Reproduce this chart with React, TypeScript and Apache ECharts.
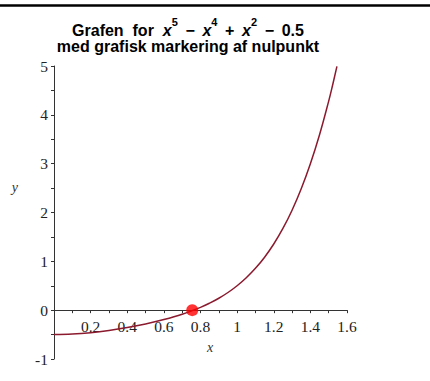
import React, { useEffect, useRef } from "react";
import * as echarts from "echarts";

const xValues = [0, 0.1, 0.2, 0.3, 0.4, 0.5, 0.6, 0.7, 0.8, 0.85, 0.9, 0.95, 1.0, 1.05, 1.1, 1.15, 1.2, 1.25, 1.3, 1.35, 1.4, 1.45, 1.5, 1.52, 1.545];
const yValues = [-0.5, -0.4901, -0.4613, -0.4157, -0.3554, -0.2813, -0.1918, -0.082, 0.0581, 0.1442, 0.2444, 0.3618, 0.5, 0.6633, 0.8564, 1.0849, 1.3547, 1.6729, 2.0468, 2.485, 2.9966, 3.5917, 4.2813, 4.5862, 4.9923];

// Marked zero point
const rootX = [0.7549];
const rootY = [0];

const titleLine1 = "Grafen  for  ";
const titleLine2 = "med grafisk markering af nulpunkt";

const xMin = 0;
const xMax = 1.6;
const xInterval = 0.2;
const yMin = -1;
const yMax = 5;
const yInterval = 1;

const GRID_TOP = 66;
const GRID_BOTTOM = 22;
const CHART_H = 381;

export default function App() {
  const ref = useRef<HTMLDivElement>(null);
  useEffect(() => {
    if (!ref.current) return;
    const chart = echarts.init(ref.current, null, { renderer: "svg" });
    const curve = xValues.map((x, i) => [x, yValues[i]]);
    const root = rootX.map((x, i) => [x, rootY[i]]);
    const serif = "Liberation Serif";
    const sans = "Liberation Sans";
    // place the x axis (line, ticks, labels) at y = 0
    const gridH = CHART_H - GRID_TOP - GRID_BOTTOM;
    const zeroOffset = -((0 - yMin) / (yMax - yMin)) * gridH;
    const op = (s: string) => "{b| \u2009" + s + "\u2009 }";
    chart.setOption({
      animation: false,
      backgroundColor: "#ffffff",
      title: {
        text:
          "{b|" + titleLine1 + "}{i|x}{s|5}" + op("−") + "{i|x}{s|4}" + op("+") + "{i|x}{s|2}" + op("−") + "{b|0.5}",
        subtext: titleLine2,
        left: 183,
        top: 11,
        textAlign: "center",
        itemGap: -1,
        textStyle: {
          rich: {
            b: { fontFamily: sans, fontWeight: "bold", fontSize: 16, color: "#000", lineHeight: 22, verticalAlign: "bottom" },
            i: { fontFamily: sans, fontWeight: "bold", fontStyle: "italic", fontSize: 16, color: "#000", lineHeight: 22, verticalAlign: "bottom" },
            s: { fontFamily: sans, fontWeight: "bold", fontSize: 11, color: "#000", lineHeight: 12, verticalAlign: "top" },
          },
        },
        subtextStyle: {
          fontFamily: sans,
          fontWeight: "bold",
          fontSize: 16,
          color: "#000",
          lineHeight: 18,
        },
      },
      grid: { left: 54, right: 83, top: GRID_TOP, bottom: GRID_BOTTOM, containLabel: false, outerBoundsMode: "none" },
      xAxis: {
        type: "value",
        min: xMin,
        max: xMax,
        interval: xInterval,
        position: "bottom",
        offset: zeroOffset,
        name: "x",
        nameLocation: "middle",
        nameGap: 30,
        nameTextStyle: { fontFamily: serif, fontStyle: "italic", fontSize: 14, color: "#333", padding: [0, 0, 0, 19] },
        axisLine: { onZero: false, lineStyle: { color: "#333", width: 1 } },
        axisTick: { show: true, inside: false, length: 3, lineStyle: { color: "#333" } },
        minorTick: { show: true, splitNumber: 2, length: 3, lineStyle: { color: "#333" } },
        splitLine: { show: false },
        axisLabel: {
          fontFamily: serif,
          fontSize: 15.5,
          color: "#222",
          margin: 8,
          formatter: (v: number) => (Math.abs(v) < 1e-9 ? "" : String(Number(v.toFixed(1)))),
        },
      },
      yAxis: {
        type: "value",
        min: yMin,
        max: yMax,
        interval: yInterval,
        name: "y",
        nameLocation: "middle",
        nameRotate: 0,
        nameGap: 36,
        nameTextStyle: { fontFamily: serif, fontStyle: "italic", fontSize: 14, color: "#333", verticalAlign: "bottom", padding: [0, 0, 18, 0] },
        axisLine: { show: true, onZero: false, lineStyle: { color: "#333", width: 1 } },
        axisTick: { show: true, inside: false, length: 3, lineStyle: { color: "#333" } },
        minorTick: { show: true, splitNumber: 2, length: 3, lineStyle: { color: "#333" } },
        splitLine: { show: false },
        axisLabel: { fontFamily: serif, fontSize: 15.5, color: "#222", margin: 6 },
      },
      graphic: [
        { type: "line", shape: { x1: 0, y1: 5.5, x2: 430, y2: 5.5 }, style: { stroke: "#000", lineWidth: 2.5 }, silent: true },
      ],
      series: [
        {
          type: "line",
          data: curve,
          smooth: 0.4,
          showSymbol: false,
          symbol: "none",
          clip: true,
          lineStyle: { color: "#8B1A2E", width: 1.5 },
          z: 2,
        },
        {
          type: "scatter",
          data: root,
          symbol: "circle",
          symbolSize: 12,
          itemStyle: { color: "#FF0000" },
          z: 3,
        },
      ],
    });
    return () => chart.dispose();
  }, []);
  return <div ref={ref} style={{ position: "fixed", left: 0, top: 0, width: 430, height: 381 }} />;
}
